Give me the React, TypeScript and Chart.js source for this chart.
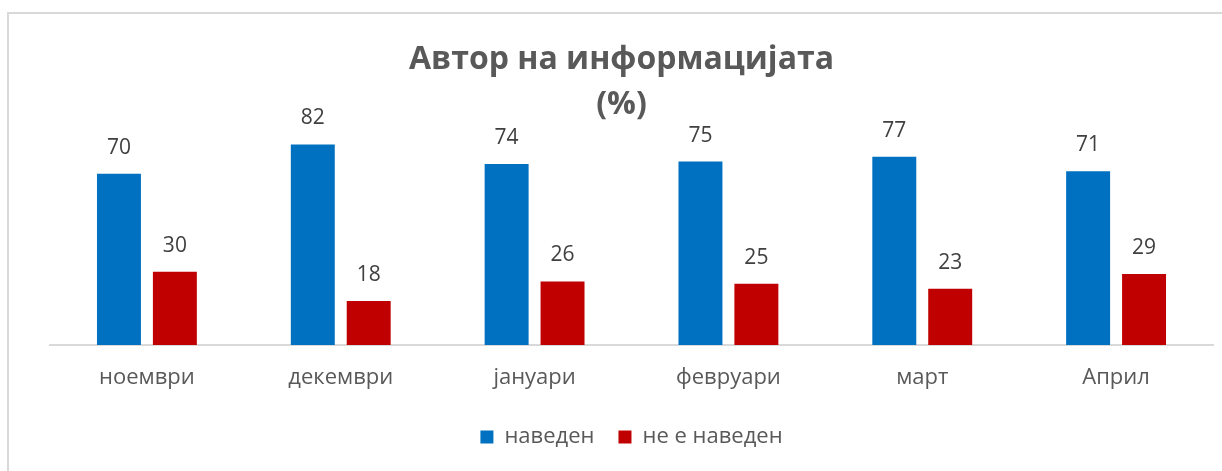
import React, { useEffect, useRef } from "react";
import { Chart, registerables } from "chart.js";

Chart.register(...registerables);

const categories = ["ноември", "декември", "јануари", "февруари", "март", "Април"];
const seriesNames = ["наведен", "не е наведен"];
const navedenValues = [70, 82, 74, 75, 77, 71];
const neNavedenValues = [30, 18, 26, 25, 23, 29];
const titleLines = ["Автор на информацијата", "(%)"];

const FONT = "'Open Sans', 'Noto Sans', sans-serif";

const dataLabels = {
  id: "dataLabels",
  afterDatasetsDraw(chart: any) {
    const ctx = chart.ctx;
    ctx.save();
    ctx.font = `21px ${FONT}`;
    ctx.fillStyle = "#404040";
    ctx.textAlign = "center";
    ctx.textBaseline = "middle";
    chart.data.datasets.forEach((ds: any, i: number) => {
      const meta = chart.getDatasetMeta(i);
      meta.data.forEach((bar: any, j: number) => {
        ctx.fillText(String(ds.data[j]), bar.x, bar.y - 26);
      });
    });
    ctx.restore();
  },
};

export default function App() {
  const ref = useRef<HTMLCanvasElement | null>(null);
  useEffect(() => {
    document.body.style.overflow = "hidden";
    const chart = new Chart(ref.current as HTMLCanvasElement, {
      type: "bar",
      data: {
        labels: categories,
        datasets: [
          {
            label: seriesNames[0],
            data: navedenValues,
            backgroundColor: "#0070C0",
            categoryPercentage: 0.577,
            barPercentage: 0.786,
          },
          {
            label: seriesNames[1],
            data: neNavedenValues,
            backgroundColor: "#C00000",
            categoryPercentage: 0.577,
            barPercentage: 0.786,
          },
        ],
      },
      options: {
        responsive: false,
        animation: false,
        layout: { padding: { left: 30, right: 9, top: 0, bottom: 13 } },
        plugins: {
          title: {
            display: true,
            text: titleLines,
            color: "#595959",
            font: { family: FONT, size: 32, weight: "bold", lineHeight: 1.42 },
            padding: { top: 37, bottom: -3 },
          },
          legend: {
            position: "bottom",
            fullSize: false,
            labels: {
              boxWidth: 13,
              boxHeight: 13,
              padding: 24,
              color: "#595959",
              font: { family: FONT, size: 22 },
            },
          },
          tooltip: { enabled: false },
        },
        scales: {
          x: {
            grid: { display: false },
            border: { display: true, color: "#d9d9d9", width: 2 },
            ticks: { color: "#595959", font: { family: FONT, size: 22 }, padding: 12 },
            afterFit: (s: any) => {
              s.height = 57;
            },
          },
          y: {
            min: 0,
            max: 90,
            display: true,
            grid: { display: false },
            border: { display: false },
            ticks: { display: false },
            afterFit: (s: any) => {
              s.width = 20;
            },
          },
        },
      } as any,
      plugins: [dataLabels],
    });
    return () => chart.destroy();
  }, []);
  return (
    <div style={{ position: "fixed", left: 0, top: 0, width: 1222, height: 471, overflow: "hidden", background: "#fff" }}>
      <div
        style={{
          position: "absolute",
          left: 7,
          top: 12,
          width: 1300,
          height: 600,
          border: "2px solid #d9d9d9",
          boxSizing: "border-box",
        }}
      />
      <canvas ref={ref} width={1222} height={471} style={{ position: "absolute", left: 0, top: 0 }} />
    </div>
  );
}
